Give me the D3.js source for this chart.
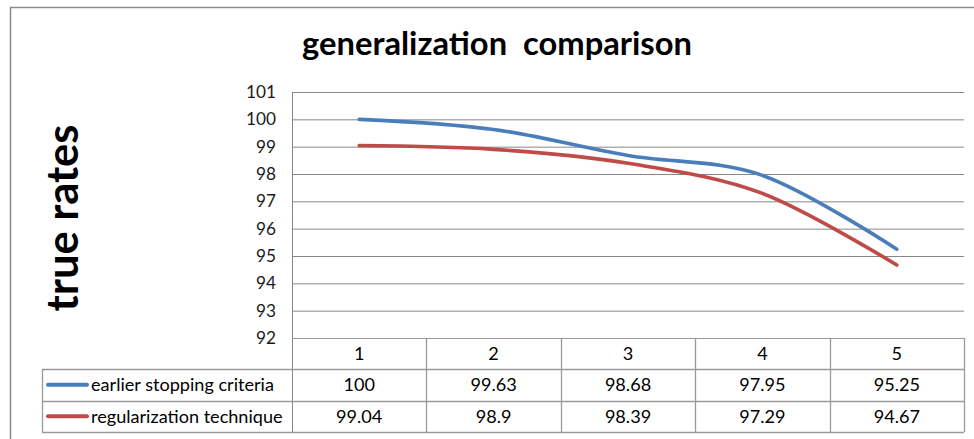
<!DOCTYPE html>
<html>
<head>
<meta charset="utf-8">
<script src="https://cdn.jsdelivr.net/npm/d3@7"></script>
<style>
  html, body { margin: 0; padding: 0; background: #fff; }
  svg { display: block; }
  text { font-family: Lato, "Open Sans", "Liberation Sans", sans-serif; }
</style>
</head>
<body>
<svg id="chart" width="974" height="439"></svg>
<script>
const categories = ["1", "2", "3", "4", "5"];
const seriesNames = ["earlier stopping criteria", "regularization technique"];
const earlierStopping = [100, 99.63, 98.68, 97.95, 95.25];
const regularization = [99.04, 98.9, 98.39, 97.29, 94.67];
const yTicks = [92, 93, 94, 95, 96, 97, 98, 99, 100, 101];
const seriesColors = ["#4A7EBB", "#BE4B48"];
const titleText = "generalization\u00a0\u00a0comparison";
const yTitleText = "true rates";

const series = [
  { name: seriesNames[0], values: earlierStopping, color: seriesColors[0] },
  { name: seriesNames[1], values: regularization, color: seriesColors[1] }
];

const svg = d3.select("#chart");
const W = 974, H = 439;
const plot = { left: 292, right: 964, top: 92, bottom: 338 };
const table = { left: 42, headerBottom: 369, rowH: 31.5 };

const x = d3.scaleBand().domain(categories).range([plot.left, plot.right]);
const y = d3.scaleLinear().domain([92, 101]).range([plot.bottom, plot.top]);

function measureSize(str, targetWidth, startSize, weight) {
  const t = svg.append("text").attr("font-size", startSize)
    .attr("font-weight", weight || "normal").text(str);
  const w = t.node().getComputedTextLength();
  t.remove();
  return w > 0 ? startSize * targetWidth / w : startSize;
}

// outer chart frame
svg.append("rect")
  .attr("x", 10.5).attr("y", 7.5).attr("width", W + 20).attr("height", H + 20)
  .attr("fill", "#fff").attr("stroke", "#8c8c8c").attr("stroke-width", 1.5);

const tableFont = measureSize(seriesNames[0], 183, 16);
const tickFont = measureSize("101", 30, 16);

// title
svg.append("text")
  .attr("x", 497).attr("y", 55)
  .attr("text-anchor", "middle")
  .attr("font-weight", "bold")
  .attr("fill", "#000")
  .attr("font-size", measureSize(titleText, 390, 28, "bold"))
  .text(titleText);

// y-axis title
svg.append("text")
  .attr("transform", "translate(78,218) rotate(-90)")
  .attr("text-anchor", "middle")
  .attr("font-weight", "bold")
  .attr("fill", "#000")
  .attr("font-size", measureSize(yTitleText, 187, 36, "bold"))
  .text(yTitleText);

// y axis with gridlines
const yAxis = d3.axisLeft(y)
  .tickValues(yTicks)
  .tickFormat(d3.format("d"))
  .tickSizeInner(-(plot.right - plot.left))
  .tickSizeOuter(0)
  .tickPadding(16);
const gy = svg.append("g")
  .attr("transform", `translate(${plot.left},0)`)
  .call(yAxis);
gy.select(".domain").remove();
gy.selectAll(".tick line").attr("stroke", "#878787").attr("stroke-width", 1);
gy.selectAll(".tick text")
  .attr("font-size", tickFont)
  .attr("fill", "#1a1a1a")
  .attr("font-family", "Lato, 'Open Sans', sans-serif");

// vertical axis line (continues through the table)
const tableBottom = table.headerBottom + table.rowH * series.length;
svg.append("line")
  .attr("x1", plot.left + 0.5).attr("x2", plot.left + 0.5)
  .attr("y1", plot.top).attr("y2", tableBottom)
  .attr("stroke", "#878787");

// lines
const line = d3.line()
  .x((d, i) => x(categories[i]) + x.bandwidth() / 2)
  .y(d => y(d))
  .curve(d3.curveCardinal.tension(0));

svg.append("g").selectAll("path")
  .data(series)
  .join("path")
  .attr("d", d => line(d.values))
  .attr("fill", "none")
  .attr("stroke", d => d.color)
  .attr("stroke-width", 3.6)
  .attr("stroke-linecap", "round");

// data table
const tg = svg.append("g");
const gridStroke = "#9a9a9a";
tg.append("line")
  .attr("x1", plot.left).attr("x2", plot.right)
  .attr("y1", plot.bottom + 0.5).attr("y2", plot.bottom + 0.5)
  .attr("stroke", gridStroke);
const hLines = d3.range(series.length + 1).map(i => table.headerBottom + i * table.rowH);
tg.selectAll("line.h")
  .data(hLines)
  .join("line")
  .attr("class", "h")
  .attr("x1", table.left).attr("x2", plot.right)
  .attr("y1", d => Math.round(d) + 0.5).attr("y2", d => Math.round(d) + 0.5)
  .attr("stroke", gridStroke).attr("stroke-width", 1.3);
tg.append("line")
  .attr("x1", table.left + 0.5).attr("x2", table.left + 0.5)
  .attr("y1", table.headerBottom).attr("y2", tableBottom)
  .attr("stroke", gridStroke).attr("stroke-width", 1.3);
tg.selectAll("line.v")
  .data(categories)
  .join("line")
  .attr("class", "v")
  .attr("x1", d => Math.round(x(d) + x.bandwidth()) + 0.5)
  .attr("x2", d => Math.round(x(d) + x.bandwidth()) + 0.5)
  .attr("y1", plot.bottom).attr("y2", tableBottom)
  .attr("stroke", gridStroke).attr("stroke-width", 1.3);

// header labels
tg.selectAll("text.hdr")
  .data(categories)
  .join("text")
  .attr("class", "hdr")
  .attr("x", d => x(d) + x.bandwidth() / 2)
  .attr("y", (plot.bottom + table.headerBottom) / 2)
  .attr("dy", "0.35em")
  .attr("text-anchor", "middle")
  .attr("font-size", tableFont)
  .attr("fill", "#000")
  .text(d => d);

// rows
const rows = tg.selectAll("g.row")
  .data(series)
  .join("g")
  .attr("class", "row")
  .attr("transform", (d, i) => `translate(0,${table.headerBottom + table.rowH * (i + 0.5)})`);
rows.append("line")
  .attr("x1", 48).attr("x2", 87)
  .attr("y1", 0).attr("y2", 0)
  .attr("stroke", d => d.color)
  .attr("stroke-width", 4)
  .attr("stroke-linecap", "round");
rows.append("text")
  .attr("x", 91).attr("dy", "0.35em")
  .attr("font-size", tableFont)
  .attr("fill", "#000")
  .text(d => d.name);
rows.selectAll("text.val")
  .data(d => d.values)
  .join("text")
  .attr("class", "val")
  .attr("x", (v, i) => x(categories[i]) + x.bandwidth() / 2)
  .attr("dy", "0.35em")
  .attr("text-anchor", "middle")
  .attr("font-size", tableFont)
  .attr("fill", "#000")
  .text(v => v);
</script>
</body>
</html>
